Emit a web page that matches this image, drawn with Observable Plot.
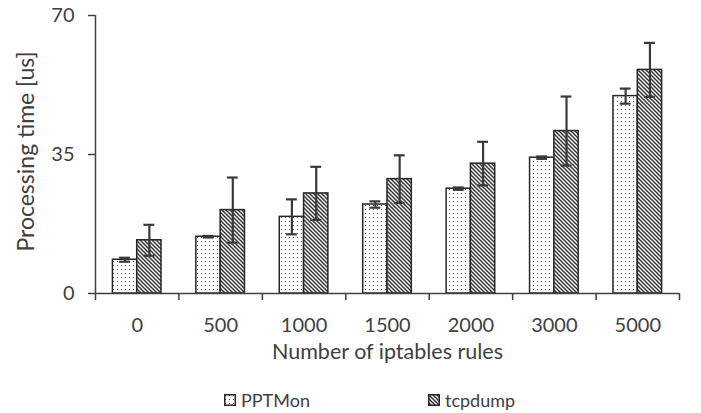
<!DOCTYPE html>
<html><head><meta charset="utf-8">
<script src="https://cdn.jsdelivr.net/npm/d3@7"></script>
<script src="https://cdn.jsdelivr.net/npm/@observablehq/plot@0.6"></script>
<style>
body{margin:0;background:#fff;font-family:Lato,sans-serif}
#legend{position:relative;width:701px;height:38px;color:#404040;font-size:18px}
.item{position:absolute;top:14px;display:flex;align-items:center;gap:5px}
</style>
</head><body>
<svg width="0" height="0" style="position:absolute">
  <defs>
    <pattern id="pat-dots" patternUnits="userSpaceOnUse" width="4" height="4">
      <rect width="4" height="4" fill="#fff"/>
      <rect x="1" y="1" width="1" height="1" fill="#555"/>
    </pattern>
    <pattern id="pat-hatch" patternUnits="userSpaceOnUse" width="4" height="4">
      <rect width="4" height="4" fill="#fff"/>
      <path d="M-1,-1L5,5M-1,3L1,5M3,-1L5,1" stroke="#333" stroke-width="1.5"/>
    </pattern>
  </defs>
</svg>
<div id="chart"></div>
<div id="legend"></div>
<script>
const categories = ["0", "500", "1000", "1500", "2000", "3000", "5000"];
const seriesNames = ["PPTMon", "tcpdump"];
const pptmonMean = [8.5, 14.3, 19.3, 22.4, 26.4, 34.2, 49.7];
const pptmonErr = [0.5, 0.2, 4.4, 0.8, 0.3, 0.3, 1.9];
const tcpdumpMean = [13.4, 21.0, 25.2, 28.8, 32.7, 40.9, 56.3];
const tcpdumpErr = [3.9, 8.2, 6.7, 6.0, 5.5, 8.7, 6.8];
const yTicks = [0, 35, 70];
const xTitle = "Number of iptables rules";
const yTitle = "Processing time [us]";

const fills = {PPTMon: "url(#pat-dots)", tcpdump: "url(#pat-hatch)"};
const w = 0.2914;   // bar width in category units
const cap = 0.065;  // half cap width in category units

const rows = [];
categories.forEach((c, i) => {
  rows.push({i, series: seriesNames[0], mean: pptmonMean[i], err: pptmonErr[i], side: -1});
  rows.push({i, series: seriesNames[1], mean: tcpdumpMean[i], err: tcpdumpErr[i], side: 1});
});
const cx = d => d.i + d.side * w / 2;
const boundaries = d3.range(categories.length + 1).map(k => k - 0.5);
const errColor = "#3b3838";
const textColor = "#404040";

const barMarks = seriesNames.map(s => Plot.rectY(rows.filter(d => d.series === s), {
  x1: d => d.i + (d.side < 0 ? -w : 0),
  x2: d => d.i + (d.side < 0 ? 0 : w),
  y1: 0, y2: "mean",
  fill: fills[s], stroke: "#262626", strokeWidth: 1.5
}));

const chart = Plot.plot({
  width: 701, height: 375,
  marginLeft: 95, marginRight: 22, marginTop: 15, marginBottom: 82,
  style: {fontFamily: "Lato, sans-serif", color: textColor, background: "#fff", overflow: "visible"},
  x: {domain: [-0.5, categories.length - 0.5]},
  y: {domain: [0, 70]},
  marks: [
    ...barMarks,
    Plot.ruleX(rows, {x: cx, y1: d => d.mean - d.err, y2: d => d.mean + d.err, stroke: errColor, strokeWidth: 2.2}),
    Plot.ruleY(rows, {y: d => d.mean + d.err, x1: d => cx(d) - cap, x2: d => cx(d) + cap, stroke: errColor, strokeWidth: 2.2}),
    Plot.ruleY(rows, {y: d => d.mean - d.err, x1: d => cx(d) - cap, x2: d => cx(d) + cap, stroke: errColor, strokeWidth: 2.2}),
    Plot.ruleX([-0.5], {y1: 0, y2: 70, stroke: textColor, strokeWidth: 1.5}),
    Plot.ruleY([0], {stroke: textColor, strokeWidth: 1.5}),
    Plot.axisY({ticks: yTicks, tickSize: 7, tickPadding: 14, fontSize: 20, label: null, strokeWidth: 1.5}),
    Plot.axisX({ticks: boundaries, tickSize: 7, tickFormat: () => "", label: null, strokeWidth: 1.5}),
    Plot.axisX({ticks: categories.map((c, i) => i), tickSize: 0, tickPadding: 24, fontSize: 20,
      tickFormat: i => categories[i], label: null}),
    Plot.text([xTitle], {frameAnchor: "bottom", dy: 59, fontSize: 21.5, fill: textColor, lineAnchor: "middle"}),
    Plot.text([yTitle], {frameAnchor: "left", dx: -69, dy: -3, rotate: -90, fontSize: 23, fill: textColor,
      lineAnchor: "middle", textAnchor: "middle"})
  ]
});
document.getElementById("chart").appendChild(chart);

const legend = document.getElementById("legend");
const lefts = [224, 428];
seriesNames.forEach((s, k) => {
  const item = document.createElement("div");
  item.className = "item";
  item.style.left = lefts[k] + "px";
  item.innerHTML = `<svg width="12" height="12"><rect x="0.75" y="0.75" width="10.5" height="10.5" fill="${fills[s]}" stroke="#262626" stroke-width="1.5"/></svg><span>${s}</span>`;
  legend.appendChild(item);
});
</script>
</body></html>
